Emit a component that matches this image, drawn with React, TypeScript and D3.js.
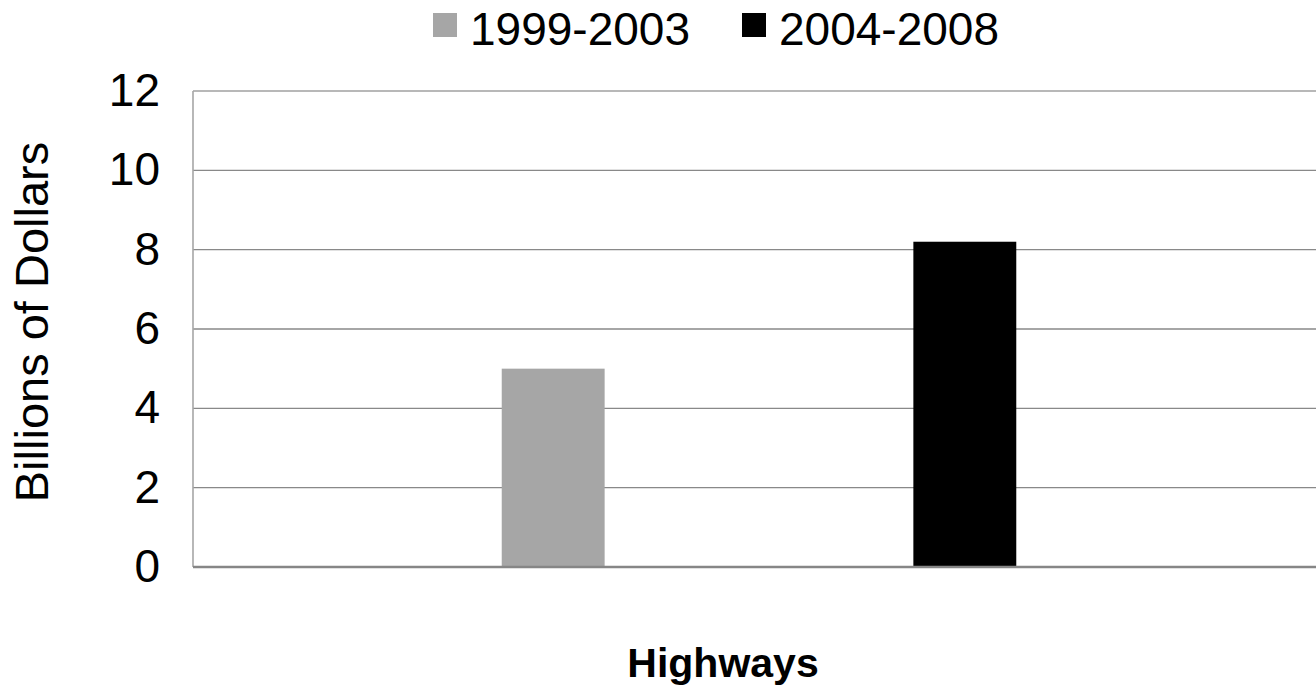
import * as d3 from "d3";
import { useEffect, useRef } from "react";

const categories = ["Highways"];
const seriesNames = ["1999-2003", "2004-2008"];
const values1999to2003 = [5.0];
const values2004to2008 = [8.2];
const yTicks = [0, 2, 4, 6, 8, 10, 12];

const WIDTH = 1316;
const HEIGHT = 687;
const FONT = "'Liberation Sans', Arial, Helvetica, sans-serif";

export default function App() {
  const ref = useRef<SVGSVGElement | null>(null);

  useEffect(() => {
    if (!ref.current) return;

    const plot = { left: 193, right: 1325, top: 91, bottom: 567 };
    const colors = ["#a6a6a6", "#000000"];
    const seriesValues = [values1999to2003, values2004to2008];

    const rows = categories.map((c, i) => ({
      category: c,
      bars: seriesNames.map((s, j) => ({ series: s, value: seriesValues[j][i], color: colors[j] })),
    }));

    const y = d3.scaleLinear().domain([0, 12]).range([plot.bottom, plot.top]);
    const x0 = d3.scaleBand().domain(categories).range([plot.left, plot.right]).padding(0);
    const x1 = d3
      .scaleBand()
      .domain(seriesNames)
      .range([0, x0.bandwidth()])
      .paddingInner(0.75)
      .paddingOuter(0.75);

    const svg = d3.select(ref.current);
    svg.selectAll("*").remove();

    // gridlines
    svg
      .append("g")
      .selectAll("line")
      .data(yTicks.filter((t) => t > 0))
      .join("line")
      .attr("x1", plot.left)
      .attr("x2", plot.right)
      .attr("y1", (d) => y(d))
      .attr("y2", (d) => y(d))
      .attr("stroke", (d) => (d === 12 ? "#a0a0a0" : "#898989"))
      .attr("stroke-width", 1.4);

    // bars
    const groups = svg
      .append("g")
      .selectAll("g")
      .data(rows)
      .join("g")
      .attr("transform", (d) => `translate(${x0(d.category) ?? 0},0)`);

    groups
      .selectAll("rect")
      .data((d) => d.bars)
      .join("rect")
      .attr("x", (d) => x1(d.series) ?? 0)
      .attr("y", (d) => y(d.value))
      .attr("width", x1.bandwidth())
      .attr("height", (d) => y(0) - y(d.value))
      .attr("fill", (d) => d.color);

    // axes lines
    svg
      .append("line")
      .attr("x1", plot.left)
      .attr("x2", plot.left)
      .attr("y1", plot.top)
      .attr("y2", plot.bottom)
      .attr("stroke", "#a6a6a6")
      .attr("stroke-width", 1.6);

    svg
      .append("line")
      .attr("x1", plot.left)
      .attr("x2", plot.right)
      .attr("y1", y(0))
      .attr("y2", y(0))
      .attr("stroke", "#868686")
      .attr("stroke-width", 2.6);

    // y tick labels
    svg
      .append("g")
      .selectAll("text")
      .data(yTicks)
      .join("text")
      .attr("x", 160)
      .attr("y", (d) => y(d) + 15)
      .attr("text-anchor", "end")
      .style("font-family", FONT)
      .style("font-size", "46px")
      .attr("fill", "#000")
      .text((d) => String(d));

    // y axis title
    svg
      .append("text")
      .attr("transform", "translate(48,322) rotate(-90)")
      .attr("text-anchor", "middle")
      .style("font-family", FONT)
      .style("font-size", "47px")
      .attr("fill", "#000")
      .text("Billions of Dollars");

    // x axis title
    svg
      .append("text")
      .attr("x", 723)
      .attr("y", 677)
      .attr("text-anchor", "middle")
      .style("font-family", FONT)
      .style("font-size", "41px")
      .style("font-weight", "bold")
      .attr("fill", "#000")
      .text(categories[0]);

    // legend
    const legendX = [433, 742];
    const legend = svg
      .append("g")
      .selectAll("g")
      .data(seriesNames)
      .join("g")
      .attr("transform", (_d, i) => `translate(${legendX[i]},0)`);

    legend
      .append("rect")
      .attr("x", 0)
      .attr("y", 13)
      .attr("width", 24)
      .attr("height", 24)
      .attr("fill", (_d, i) => colors[i]);

    legend
      .append("text")
      .attr("x", 37)
      .attr("y", 45)
      .style("font-family", FONT)
      .style("font-size", "46px")
      .attr("fill", "#000")
      .text((d) => d);
  }, []);

  return (
    <svg
      ref={ref}
      width={WIDTH}
      height={HEIGHT}
      style={{ position: "absolute", left: 0, top: 0, background: "#fff" }}
      role="img"
      aria-label="Billions of Dollars by period"
    />
  );
}
